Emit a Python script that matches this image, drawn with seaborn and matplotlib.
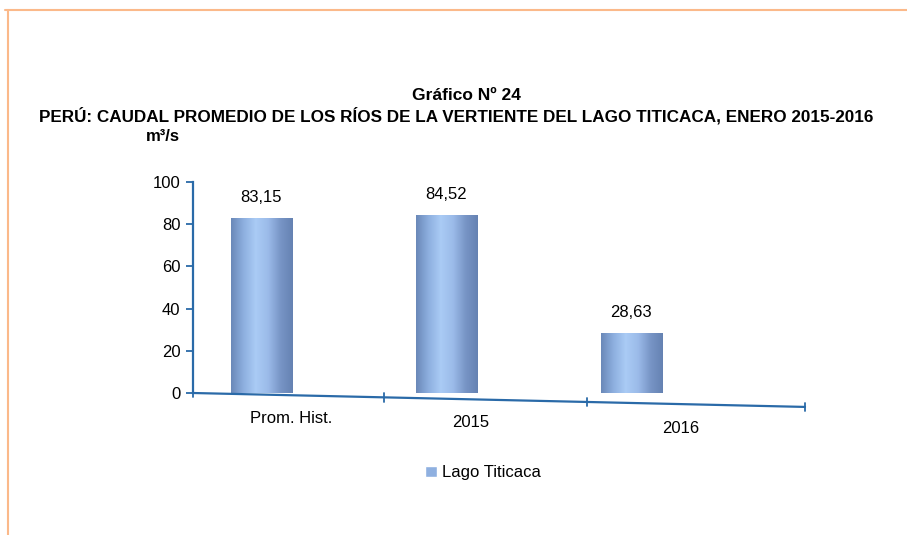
import numpy as np
import pandas as pd
import seaborn as sns
import matplotlib.pyplot as plt
from matplotlib.colors import LinearSegmentedColormap
from matplotlib.lines import Line2D

# =========================
# DATA
# =========================
categories = ["Prom. Hist.", "2015", "2016"]
caudal = [83.15, 84.52, 28.63]
series_name = "Lago Titicaca"
yticks = [0, 20, 40, 60, 80, 100]

df = pd.DataFrame({"periodo": categories, "caudal": caudal,
                   "serie": [series_name] * len(categories)})

# =========================
# STYLE
# =========================
sns.set_theme(style="white")
plt.rcParams["font.family"] = ["Liberation Sans Narrow", "Liberation Sans", "DejaVu Sans"]
plt.rcParams["text.color"] = "black"
plt.rcParams["xtick.color"] = "black"
plt.rcParams["ytick.color"] = "black"

bar_color = "#8fb0e0"
axis_color = "#2a6aa8"

fig = plt.figure(figsize=(9.07, 5.35), dpi=100)
ax = fig.add_axes([193 / 907, 142 / 535, 612 / 907, 211 / 535])

sns.barplot(data=df, x="periodo", y="caudal", hue="serie",
            palette=[bar_color], width=0.33, saturation=1,
            dodge=False, ax=ax)

ax.set_xlim(-0.37, 2.94)
ax.set_ylim(0, 100)

# cylinder-like shading on each bar
cyl = LinearSegmentedColormap.from_list(
    "cyl", ["#6a88b8", "#8dafdf", "#aacbf5", "#9bbbe9", "#7895c6", "#6582b2"])
grad = np.linspace(0, 1, 256).reshape(1, -1)
for p in ax.patches:
    if p.get_height() <= 0:
        continue
    x0, y0, w, h = p.get_x(), p.get_y(), p.get_width(), p.get_height()
    im = ax.imshow(grad, extent=[x0, x0 + w, y0, y0 + h], aspect="auto",
                   cmap=cyl, zorder=p.get_zorder() + 0.1)
    im.set_clip_path(p)
ax.set_xlim(-0.37, 2.94)
ax.set_ylim(0, 100)

# value labels with decimal comma
ax.bar_label(ax.containers[0], labels=[f"{v:.2f}".replace(".", ",") for v in caudal],
             padding=9, fontsize=12, color="black",
             family=["Liberation Sans", "DejaVu Sans"])

# =========================
# AXES
# =========================
for s in ["top", "right", "bottom"]:
    ax.spines[s].set_visible(False)
ax.spines["left"].set_color(axis_color)
ax.spines["left"].set_linewidth(1.6)

ax.set_yticks(yticks)
ax.tick_params(axis="y", length=5, width=1.3, color=axis_color, labelsize=12,
               labelcolor="black", pad=4, left=True)
for t in ax.get_yticklabels():
    t.set_family(["Liberation Sans", "DejaVu Sans"])

# tilted base line (3D look)
drop = -0.066
ax.plot([0, 1], [0, drop], transform=ax.transAxes, color=axis_color,
        lw=1.6, clip_on=False)
for f in [0, 0.312, 0.644, 1.0]:
    ax.plot([f, f], [drop * f - 0.02, drop * f + 0.02], transform=ax.transAxes,
            color=axis_color, lw=1.3, clip_on=False)

label_shift = [0.16, 0.13, 0.27]
label_pad = [13, 16, 20]
ax.set_xticks([i + s for i, s in enumerate(label_shift)])
ax.set_xticklabels(categories, fontsize=12)
ax.tick_params(axis="x", length=0, labelcolor="black")
for tick, pad in zip(ax.xaxis.get_major_ticks(), label_pad):
    tick.set_pad(pad)
for t in ax.get_xticklabels():
    t.set_family(["Liberation Sans", "DejaVu Sans"])

ax.set_xlabel("")
ax.set_ylabel("")

ax.text(-0.05, 1.215, "m³/s", transform=ax.transAxes, ha="center", va="center",
        fontsize=12, fontweight="bold", family=["Liberation Sans", "DejaVu Sans"])

# legend below the plot
sns.move_legend(ax, "center", bbox_to_anchor=(0.474, -0.379), frameon=False,
                title=None, handlelength=0.7, handleheight=0.7,
                handletextpad=0.3,
                prop={"family": ["Liberation Sans", "DejaVu Sans"], "size": 12})

# =========================
# TITLE + FRAME
# =========================
fig.text(0.514, 1 - 96 / 535, "Gráfico Nº 24", ha="center", va="center",
         fontsize=12.5, fontweight="bold")
fig.text(0.503, 1 - 116 / 535,
         "PERÚ: CAUDAL PROMEDIO DE LOS RÍOS DE LA VERTIENTE DEL LAGO TITICACA, ENERO 2015-2016",
         ha="center", va="center", fontsize=12.3, fontweight="bold")

frame_color = "#fbb98a"
fig.add_artist(Line2D([0.006, 1.0], [0.981, 0.981], color=frame_color, lw=1.5))
fig.add_artist(Line2D([0.009, 0.009], [0.0, 0.981], color=frame_color, lw=1.5))

fig.savefig("out.png", dpi=100)
